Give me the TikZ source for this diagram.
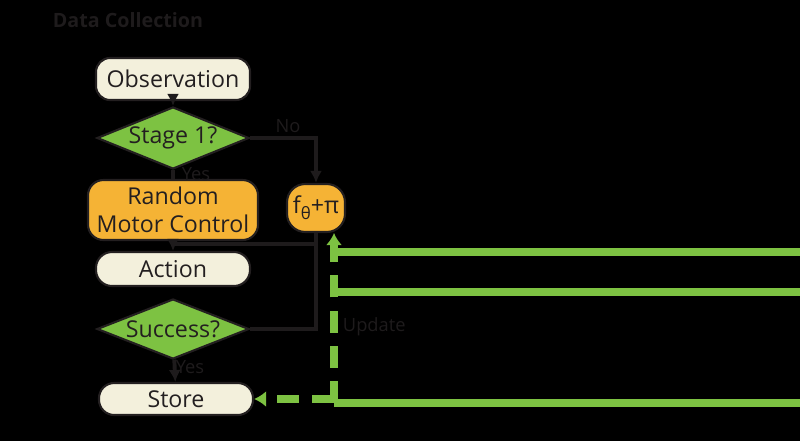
\documentclass[tikz,border=0pt]{standalone}
\usepackage{fontspec}
\setmainfont{Open Sans}
\usetikzlibrary{arrows.meta,positioning,shapes.geometric,calc}
\definecolor{ink}{HTML}{231F20}
\definecolor{shade}{HTML}{1E1B1C}
\definecolor{leaf}{HTML}{7DC242}
\definecolor{amber}{HTML}{F5B335}
\definecolor{cream}{HTML}{F3F0DC}

\begin{document}
\begin{tikzpicture}[
  x=0.025cm,y=-0.025cm,
  font=\fontsize{16.5}{20}\selectfont,
  base/.style={draw=ink,line width=1.5pt,text=ink,align=center,inner sep=0pt},
  term/.style={base,fill=cream,minimum width=3.85cm},
  motor/.style={base,fill=amber,rounded corners=11pt},
  decision/.style={base,diamond,aspect=2.5,fill=leaf,minimum width=3.8cm,minimum height=1.55cm},
  wire/.style={draw=shade,line width=2.8pt},
  wirearr/.style={wire,-{Latex[length=3mm,width=3mm]}},
  feed/.style={draw=leaf,line width=5pt},
  feeddash/.style={feed,dash pattern=on 0.55cm off 0.33cm},
  note/.style={text=shade,font=\fontsize{13}{15}\selectfont}
]
  \fill[black,use as bounding box] (0,0) rectangle (800,441);

  % main column
  \node[term,rounded corners=10pt,minimum height=1.05cm] (obs) at (173,79) {Observation};
  \node[decision] (stage) at (173,138) {Stage 1?};
  \node[motor,minimum width=4.25cm,minimum height=1.5cm] (rand) at (173,210) {Random\\Motor Control};
  \node[term,rounded corners=0.4cm,minimum height=0.85cm] (act) at (173,269) {Action};
  \node[decision,minimum height=1.5cm] (succ) at (173,329) {Success?};
  \node[term,rounded corners=0.38cm,minimum height=0.8cm] (store) at (176,399) {Store};

  % policy
  \node[motor,minimum width=1.45cm,minimum height=1.2cm,rounded corners=13pt] (pol) at (316,208)
    {f\raisebox{-0.5ex}{\fontsize{12}{12}\selectfont θ}+π};

  % labels
  \node[note,font=\fontsize{14}{16}\selectfont\bfseries] (title) at (128,20) {Data Collection};
  \node[note] (no1) at (288,126) {No};
  \node[note] (yes1) at (196,174) {Yes};
  \node[note] (yes2) at (190,367) {Yes};
  \node[note,anchor=west] (upd) at (338,327) {Update};

  % dark connectors
  \coordinate (join) at (173,244);
  \draw[wirearr] (obs) -- (stage);
  \draw[wirearr] (stage.east) -| (pol.north);
  \draw[wire] (stage) -- (rand);
  \draw[wirearr] (rand) -- (act);
  \draw[wire] (pol.south) |- (join);
  \draw[wire] (succ.east) -| (pol.south);
  \draw[wirearr] (succ) -- (store);

  % green feedback
  \coordinate (g1) at (800,252);
  \coordinate (g2) at (800,292);
  \coordinate (g3) at (800,403);
  \coordinate (b1) at (334,252);
  \coordinate (b2) at (334,292);
  \coordinate (b3) at (334,403);
  \coordinate (tip) at (334,233);
  \coordinate (st) at (334,399);
  \draw[feed] (g1) -- (b1);
  \draw[feed] (g2) -- (b2);
  \draw[feed] (g3) -- (b3);
  \draw[feeddash,-{Latex[length=3mm,width=4mm]}] (b3) -- (tip);
  \draw[feeddash,-{Latex[length=3mm,width=4mm]}] (st) -- (store.east);
\end{tikzpicture}
\end{document}
